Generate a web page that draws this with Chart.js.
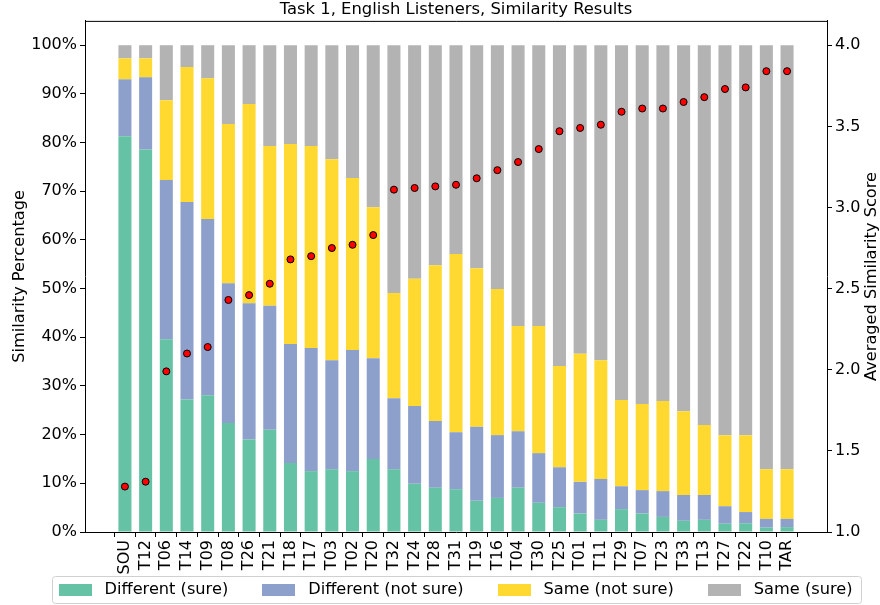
<!DOCTYPE html>
<html><head><meta charset="utf-8">
<script src="https://cdn.jsdelivr.net/npm/chart.js@4/dist/chart.umd.min.js"></script>
<style>html,body{margin:0;padding:0;background:#fff;}</style>
</head><body>
<canvas id="c" width="880" height="605"></canvas>
<script>
const categories = ['SOU','T12','T06','T14','T09','T08','T26','T21','T18','T17','T03','T02','T20','T32','T24','T28','T31','T19','T16','T04','T30','T25','T01','T11','T29','T07','T23','T33','T13','T27','T22','T10','TAR'];
const diffSure    = [81.3,78.6,39.6,27.2,28.1,22.4,19.0,21.0,14.2,12.5,12.9,12.5,15.0,12.9,9.9,9.1,8.8,6.4,7.0,9.1,6.0,5.1,3.8,2.5,4.7,3.8,3.1,2.3,2.5,1.7,1.8,0.9,1.0];
const diffNotSure = [11.7,14.8,32.7,40.6,36.2,28.7,28.0,25.5,24.4,25.3,22.4,24.9,20.7,14.6,16.0,13.7,11.7,15.2,12.9,11.6,10.2,8.2,6.5,8.4,4.7,4.8,5.3,5.3,5.1,3.6,2.3,1.8,1.7];
const sameNotSure = [4.3,3.9,16.4,27.7,28.9,32.7,40.9,32.8,41.1,41.5,41.3,35.3,31.0,21.6,26.1,32.0,36.6,32.6,30.0,21.6,26.1,20.8,26.3,24.4,17.7,17.7,18.5,17.2,14.4,14.6,15.8,10.2,10.2];
const sameSure    = [2.7,2.7,11.3,4.5,6.8,16.2,12.1,20.7,20.3,20.7,23.4,27.3,33.3,50.9,48.0,45.2,42.9,45.8,50.1,57.7,57.7,65.9,63.4,64.7,72.9,73.7,73.1,75.2,78.0,80.1,80.1,87.1,87.1];
const avgScore    = [1.28,1.31,1.99,2.10,2.14,2.43,2.46,2.53,2.68,2.70,2.75,2.77,2.83,3.11,3.12,3.13,3.14,3.18,3.23,3.28,3.36,3.47,3.49,3.51,3.59,3.61,3.61,3.65,3.68,3.73,3.74,3.84,3.84];
const seriesNames = ['Different (sure)','Different (not sure)','Same (not sure)','Same (sure)'];
const percentTicks = [0,10,20,30,40,50,60,70,80,90,100];
const scoreTicks = [1.0,1.5,2.0,2.5,3.0,3.5,4.0];
const chartTitle = 'Task 1, English Listeners, Similarity Results';
const leftAxisTitle = 'Similarity Percentage';
const rightAxisTitle = 'Averaged Similarity Score';

const FONT = '"DejaVu Sans", sans-serif';
Chart.defaults.color = '#000';
Chart.defaults.font.family = FONT;
Chart.defaults.font.size = 16;

const toXY = arr => arr.map((v, i) => ({x: i, y: v}));

const extras = {
  id: 'extras',
  afterDraw(chart) {
    const {ctx, chartArea: a} = chart;
    ctx.save();
    ctx.strokeStyle = '#000'; ctx.lineWidth = 1;
    ctx.beginPath(); ctx.moveTo(a.left, a.top + 0.5); ctx.lineTo(a.right + 0.5, a.top + 0.5); ctx.stroke();
    ctx.font = '16.2px ' + FONT; ctx.fillStyle = '#000';
    ctx.translate(872, (a.top + a.bottom) / 2); ctx.rotate(-Math.PI / 2);
    ctx.textAlign = 'center'; ctx.textBaseline = 'middle';
    ctx.fillText(rightAxisTitle, 0, 0);
    ctx.restore();

    // legend
    const items = chart.data.datasets.filter(d => d.type === 'bar');
    ctx.save();
    ctx.font = '16.2px ' + FONT;
    const sw = 33, sh = 12, gapT = 13, gapI = 34, padL = 7, padR = 8;
    const widths = items.map(d => sw + gapT + ctx.measureText(d.label).width);
    const total = widths.reduce((s, w) => s + w, 0) + gapI * (items.length - 1) + padL + padR;
    const cx = (a.left + a.right) / 2;
    let x = cx - total / 2;
    const top = chart.height - 28.5, h = 27;
    ctx.fillStyle = 'rgba(255,255,255,0.8)';
    ctx.strokeStyle = '#d0d0d0'; ctx.lineWidth = 1;
    ctx.beginPath(); ctx.roundRect(Math.round(x) + 0.5, top, Math.round(total), h, 3); ctx.fill(); ctx.stroke();
    x += padL;
    const cy = top + h / 2;
    items.forEach((d, i) => {
      ctx.fillStyle = d.backgroundColor;
      ctx.fillRect(Math.round(x), Math.round(cy - sh / 2), sw, sh);
      ctx.fillStyle = '#000'; ctx.textAlign = 'left'; ctx.textBaseline = 'middle';
      ctx.fillText(d.label, x + sw + gapT, cy);
      x += widths[i] + gapI;
    });
    ctx.restore();
  }
};

new Chart(document.getElementById('c'), {
  data: {
    datasets: [
      {type: 'line', label: 'Averaged Similarity Score', data: toXY(avgScore), yAxisID: 'y2', xAxisID: 'x',
       showLine: false, pointRadius: 3.5, pointHoverRadius: 3.5, pointBackgroundColor: '#ff0000', pointBorderColor: '#000', pointBorderWidth: 1, order: 0},
      {type: 'bar', label: seriesNames[0], data: toXY(diffSure), backgroundColor: '#66c2a5', yAxisID: 'y', stack: 's', order: 1},
      {type: 'bar', label: seriesNames[1], data: toXY(diffNotSure), backgroundColor: '#8da0cb', yAxisID: 'y', stack: 's', order: 1},
      {type: 'bar', label: seriesNames[2], data: toXY(sameNotSure), backgroundColor: '#ffd92f', yAxisID: 'y', stack: 's', order: 1},
      {type: 'bar', label: seriesNames[3], data: toXY(sameSure), backgroundColor: '#b3b3b3', yAxisID: 'y', stack: 's', order: 1}
    ]
  },
  options: {
    responsive: false, animation: false, devicePixelRatio: 1,
    layout: {padding: {left: 0, right: 0, top: 0, bottom: 30}},
    datasets: {bar: {barPercentage: 0.63, categoryPercentage: 1, borderWidth: 0}},
    plugins: {
      legend: {display: false}, tooltip: {enabled: false},
      title: {display: true, fullSize: false, text: chartTitle, font: {size: 16.4, weight: 'normal'}, padding: {top: 0, bottom: 1.2}, color: '#000'}
    },
    scales: {
      x: {
        type: 'linear', stacked: true, min: -1.93, max: 33.93, offset: false,
        afterBuildTicks: s => { s.ticks = categories.map((_, i) => ({value: i})); },
        afterFit: s => { s.height = 43; },
        ticks: {autoSkip: false, minRotation: 90, maxRotation: 90, padding: 3,
                callback: v => categories[v] !== undefined ? categories[v] : ''},
        grid: {display: true, drawOnChartArea: false, drawTicks: true, tickLength: 5, tickColor: '#000', color: '#000'},
        border: {display: true, color: '#000', width: 1}
      },
      y: {
        type: 'linear', position: 'left', stacked: true, min: 0, max: 105,
        afterBuildTicks: s => { s.ticks = percentTicks.map(v => ({value: v})); },
        afterFit: s => { s.width = 85; },
        ticks: {padding: 3, callback: v => v + '%'},
        grid: {display: true, drawOnChartArea: false, drawTicks: true, tickLength: 5, tickColor: '#000', color: '#000'},
        border: {display: true, color: '#000', width: 1},
        title: {display: true, text: leftAxisTitle, font: {size: 16.2}, padding: {top: 10, bottom: 0}}
      },
      y2: {
        type: 'linear', position: 'right', min: 1, max: 4.15,
        afterBuildTicks: s => { s.ticks = scoreTicks.map(v => ({value: v})); },
        afterFit: s => { s.width = 53; },
        ticks: {padding: 3, callback: v => v.toFixed(1)},
        grid: {display: true, drawOnChartArea: false, drawTicks: true, tickLength: 5, tickColor: '#000', color: '#000'},
        border: {display: true, color: '#000', width: 1}
      }
    }
  },
  plugins: [extras]
});
</script>
</body></html>
